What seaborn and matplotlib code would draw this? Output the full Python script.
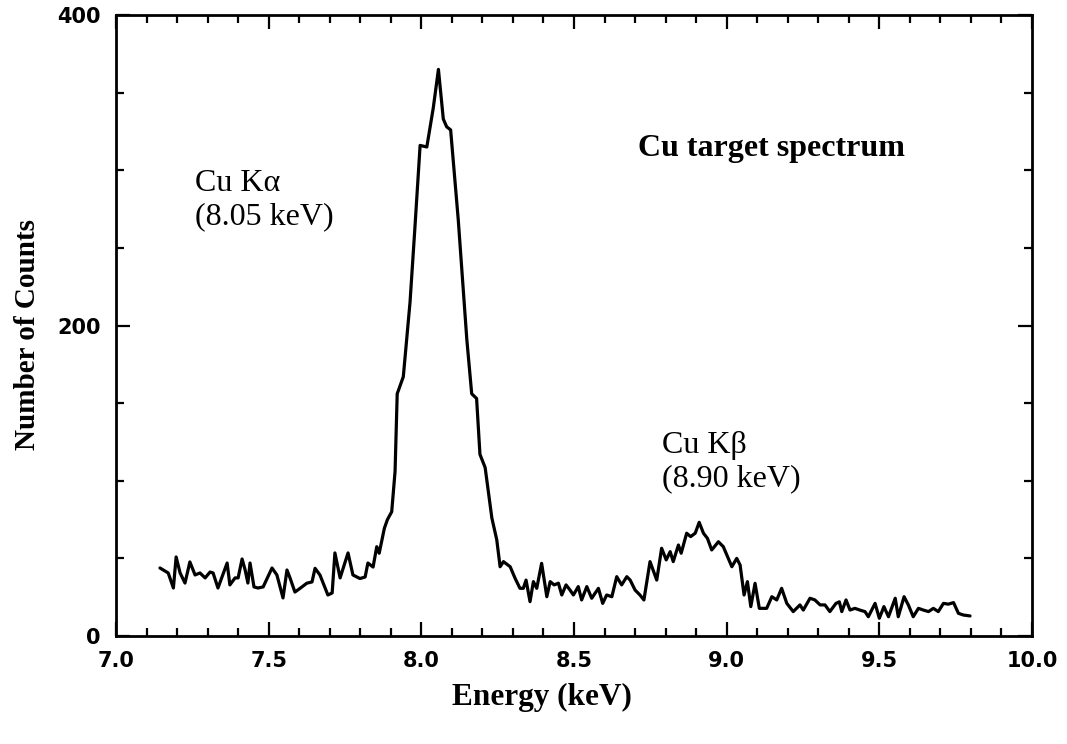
import matplotlib
matplotlib.use("Agg")
import matplotlib.pyplot as plt
from matplotlib.ticker import MultipleLocator, FixedLocator
import seaborn as sns
import pandas as pd

energy_kev = [
    7.144, 7.171, 7.188, 7.197, 7.210, 7.226, 7.242, 7.259, 7.275, 7.292,
    7.308, 7.318, 7.334, 7.364, 7.373, 7.390, 7.400, 7.413, 7.423, 7.432,
    7.439, 7.452, 7.465, 7.482, 7.511, 7.527, 7.547, 7.560, 7.570, 7.586,
    7.603, 7.625, 7.642, 7.652, 7.668, 7.694, 7.708, 7.717, 7.734, 7.760,
    7.776, 7.799, 7.816, 7.825, 7.842, 7.854, 7.862, 7.879, 7.889, 7.903,
    7.914, 7.921, 7.941, 7.963, 7.979, 7.996, 8.018, 8.039, 8.056, 8.072,
    8.083, 8.096, 8.121, 8.149, 8.165, 8.181, 8.192, 8.209, 8.231, 8.247,
    8.258, 8.269, 8.291, 8.307, 8.323, 8.334, 8.343, 8.356, 8.367, 8.378,
    8.394, 8.411, 8.422, 8.435, 8.449, 8.460, 8.474, 8.487, 8.498, 8.514,
    8.525, 8.542, 8.558, 8.580, 8.594, 8.607, 8.624, 8.640, 8.656, 8.673,
    8.684, 8.700, 8.716, 8.729, 8.749, 8.771, 8.787, 8.802, 8.815, 8.825,
    8.842, 8.851, 8.869, 8.882, 8.897, 8.910, 8.924, 8.937, 8.951, 8.973,
    8.989, 9.017, 9.033, 9.044, 9.057, 9.068, 9.079, 9.093, 9.107, 9.131,
    9.148, 9.164, 9.180, 9.197, 9.218, 9.240, 9.251, 9.273, 9.289, 9.306,
    9.322, 9.338, 9.358, 9.369, 9.377, 9.391, 9.404, 9.420, 9.436, 9.453,
    9.464, 9.486, 9.500, 9.515, 9.530, 9.552, 9.562, 9.581, 9.595, 9.611,
    9.628, 9.644, 9.661, 9.677, 9.693, 9.710, 9.726, 9.743, 9.759, 9.775,
    9.797,
]
counts = [
    43.8, 40.6, 30.9, 50.9, 40.6, 34.1, 47.7, 39.3, 40.6, 37.4,
    41.2, 40.6, 30.9, 47.0, 32.9, 37.4, 37.4, 49.6, 42.5, 34.1,
    47.0, 31.6, 30.9, 31.6, 43.8, 39.3, 24.5, 42.5, 37.4, 28.3,
    30.7, 34.0, 34.8, 43.6, 39.3, 26.4, 27.7, 53.5, 37.4, 53.5,
    39.3, 37.0, 38.0, 47.0, 44.4, 57.5, 53.3, 69.4, 75.0, 80.0,
    106.0, 156.0, 167.0, 215.0, 263.0, 316.0, 315.0, 340.0, 365.0, 333.0,
    328.0, 326.0, 268.0, 191.0, 156.0, 153.0, 117.0, 108.5, 76.0, 62.0,
    44.6, 47.9, 44.6, 37.2, 30.7, 30.7, 36.0, 22.1, 35.0, 30.7,
    46.8, 25.3, 35.0, 32.9, 34.0, 26.4, 32.9, 29.6, 26.4, 31.8,
    23.2, 31.8, 24.3, 30.7, 21.0, 26.4, 25.3, 38.2, 32.9, 38.2,
    36.0, 29.6, 26.4, 23.2, 47.9, 36.0, 56.5, 49.0, 54.3, 47.9,
    58.6, 53.3, 66.2, 64.0, 66.2, 73.2, 66.2, 62.9, 55.4, 60.7,
    57.5, 44.6, 50.0, 45.7, 26.4, 35.0, 18.9, 33.9, 17.8, 17.8,
    25.3, 23.2, 30.7, 21.0, 15.7, 20.0, 16.7, 24.3, 23.2, 20.0,
    20.0, 15.7, 21.0, 22.0, 15.7, 23.2, 16.7, 17.8, 16.7, 15.7,
    12.4, 21.0, 11.4, 18.9, 12.4, 24.3, 12.4, 25.3, 20.0, 12.4,
    17.8, 16.7, 15.7, 17.8, 15.7, 21.0, 20.5, 21.5, 14.6, 13.5,
    12.9,
]

x_ticks = [7.0, 7.5, 8.0, 8.5, 9.0, 9.5, 10.0]
x_tick_labels = ["7.0", "7.5", "8.0", "8.5", "9.0", "9.5", "10.0"]
y_ticks = [0, 200, 400]
y_tick_labels = ["0", "200", "400"]

df = pd.DataFrame({"Energy": energy_kev, "Counts": counts})

sns.set_theme(style="ticks")
plt.rcParams["font.family"] = ["DejaVu Sans"]
plt.rcParams["text.color"] = "black"
plt.rcParams["axes.labelcolor"] = "black"
plt.rcParams["xtick.color"] = "black"
plt.rcParams["ytick.color"] = "black"
plt.rcParams["axes.edgecolor"] = "black"

fig = plt.figure(figsize=(10.67, 7.44), dpi=100)
ax = fig.add_axes([0.1087, 0.1452, 0.8585, 0.8346])

sns.lineplot(data=df, x="Energy", y="Counts", ax=ax, color="black",
             linewidth=2.3, estimator=None, sort=False)

ax.set_xlim(7.0, 10.0)
ax.set_ylim(0, 400)
ax.xaxis.set_major_locator(FixedLocator(x_ticks))
ax.set_xticklabels(x_tick_labels)
ax.xaxis.set_minor_locator(MultipleLocator(0.1))
ax.yaxis.set_major_locator(FixedLocator(y_ticks))
ax.set_yticklabels(y_tick_labels)
ax.yaxis.set_minor_locator(MultipleLocator(50))

for s in ax.spines.values():
    s.set_visible(True)
    s.set_linewidth(2.0)
    s.set_color("black")

ax.tick_params(which="both", direction="in", top=True, right=True,
               width=1.6, color="black", labelcolor="black")
ax.tick_params(which="major", length=10)
ax.tick_params(which="minor", length=6)
ax.tick_params(axis="x", which="major", pad=11)
ax.tick_params(axis="y", which="major", pad=11)
for lab in ax.get_xticklabels() + ax.get_yticklabels():
    lab.set_fontweight("bold")
    lab.set_fontsize(15)
    lab.set_family("DejaVu Sans")

serif = ["Liberation Serif", "DejaVu Serif"]
ax.set_xlabel("Energy (keV)", family=serif, fontweight="bold", fontsize=22.5,
              color="black")
ax.xaxis.set_label_coords(0.465, -0.075)
ax.set_ylabel("Number of Counts", family=serif, fontweight="bold", fontsize=21,
              color="black")
ax.yaxis.set_label_coords(-0.082, 0.485)

ax.text(7.259, 281, "Cu K\u03b1\n(8.05 keV)", family=serif, fontsize=23,
        ha="left", va="center", linespacing=1.2, color="black")
ax.text(8.788, 112, "Cu K\u03b2\n(8.90 keV)", family=serif, fontsize=23,
        ha="left", va="center", linespacing=1.2, color="black")
ax.text(8.710, 314, "Cu target spectrum", family=serif, fontsize=23,
        fontweight="bold", ha="left", va="center", color="black")

fig.savefig("out.png", dpi=100, facecolor="white")
